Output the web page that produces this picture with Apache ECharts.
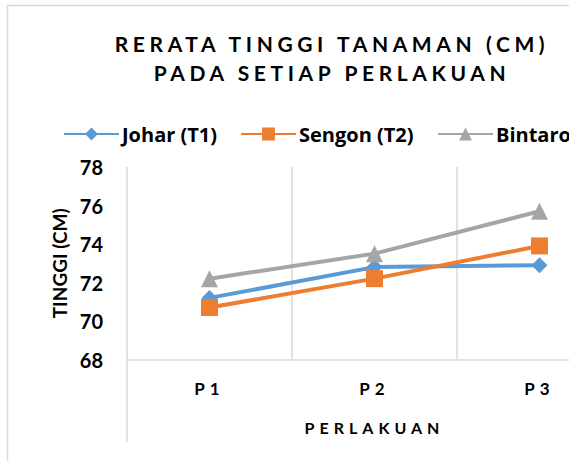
<!DOCTYPE html>
<html><head><meta charset="utf-8">
<script src="https://cdn.jsdelivr.net/npm/echarts@6/dist/echarts.min.js"></script>
<style>html,body{margin:0;padding:0;background:#fff}#c{width:569px;height:461px}</style>
</head><body><div id="c"></div>
<script>
const categories = ['P1', 'P2', 'P3'];
const seriesNames = ['Johar (T1)', 'Sengon (T2)', 'Bintaro (T3)'];
const johar = [71.2, 72.8, 72.9];
const sengon = [70.7, 72.2, 73.9];
const bintaro = [72.2, 73.5, 75.7];
const yMin = 68, yMax = 78, yStep = 2;
const titleText = 'RERATA TINGGI TANAMAN (CM)\nPADA SETIAP PERLAKUAN';
const xName = 'PERLAKUAN';
const yName = 'TINGGI (CM)';

const FONT = 'Lato';
const LFONT = 'Open Sans';
const gridColor = '#d9d9d9';
const legendLefts = [58, 235, 432];

const chart = echarts.init(document.getElementById('c'), null, { renderer: 'svg' });
const mk = (name, data, color, symbol, size) => ({
  name, type: 'line', data, symbol, symbolSize: size,
  lineStyle: { color, width: 4 }, itemStyle: { color },
  emphasis: { disabled: true }, z: 3
});
const option = {
  animation: false,
  title: {
    text: titleText, left: 327, top: 24, textAlign: 'center',
    textStyle: { fontFamily: FONT, fontSize: 21, fontWeight: 'bold', color: '#000', lineHeight: 29 }
  },
  legend: seriesNames.map((n, i) => ({
    left: legendLefts[i], top: 119, itemWidth: 55, itemHeight: 16, itemGap: 0,
    textStyle: { fontFamily: LFONT, fontSize: 20, fontWeight: 'bold', color: '#000', padding: [0, 0, 0, -2] },
    data: [n]
  })),
  grid: { left: 127, top: 167, width: 495, height: 192.5, outerBoundsMode: 'none', containLabel: false },
  xAxis: {
    type: 'category', data: categories, boundaryGap: true,
    axisLine: { lineStyle: { color: gridColor, width: 1.5 } },
    axisTick: { show: false },
    splitLine: { show: true, lineStyle: { color: gridColor, width: 1.5 } },
    axisLabel: { margin: 20, fontFamily: FONT, fontSize: 17, fontWeight: 'bold', color: '#000' },
    name: xName, nameLocation: 'middle', nameGap: 60,
    nameTextStyle: { fontFamily: FONT, fontSize: 16, fontWeight: 'bold', color: '#000' }
  },
  yAxis: {
    type: 'value', min: yMin, max: yMax, interval: yStep,
    axisLine: { show: false }, axisTick: { show: false }, splitLine: { show: false },
    axisLabel: { margin: 24, fontFamily: FONT, fontSize: 20, fontWeight: 'bold', color: '#000' },
    name: yName, nameLocation: 'middle', nameGap: 57, nameRotate: 90,
    nameTextStyle: { fontFamily: FONT, fontSize: 19, fontWeight: 'bold', color: '#000' }
  },
  graphic: [
    { type: 'rect', silent: true, shape: { x: 7.5, y: 5.5, width: 800, height: 800 },
      style: { fill: 'none', stroke: gridColor, lineWidth: 1.5 } },
    { type: 'line', silent: true, shape: { x1: 127, y1: 359, x2: 127, y2: 442 },
      style: { stroke: gridColor, lineWidth: 1.5 } }
  ],
  series: [
    mk(seriesNames[0], johar, '#5B9BD5', 'diamond', 16),
    mk(seriesNames[1], sengon, '#ED7D31', 'rect', 17),
    mk(seriesNames[2], bintaro, '#A5A5A5', 'triangle', 17)
  ]
};
chart.setOption(option);

function spacing() {
  const titleLines = titleText.split('\n');
  document.querySelectorAll('#c text').forEach(t => {
    const s = t.textContent;
    if (titleLines.includes(s)) t.style.letterSpacing = '4.6px';
    else if (categories.includes(s) || s === xName) t.style.letterSpacing = '5px';
  });
}
chart.on('finished', spacing);
setTimeout(spacing, 0);
requestAnimationFrame(() => requestAnimationFrame(spacing));
</script>
</body></html>
